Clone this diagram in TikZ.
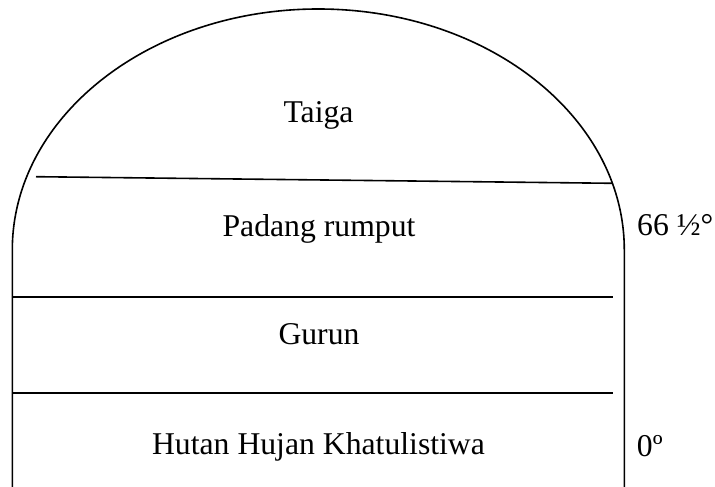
\documentclass[tikz,border=0pt]{standalone}
\usepackage{fontspec}
\setmainfont{Liberation Serif}
\tikzset{
  outline/.style={line width=1.6pt, line join=round},
  divider/.style={line width=1.6pt},
  zonelabel/.style={inner sep=0pt, anchor=base, font=\fontsize{31.7}{38}\selectfont},
  latlabel/.style={inner sep=0pt, anchor=base west, font=\fontsize{31.7}{38}\selectfont}
}
\begin{document}
\begin{tikzpicture}[x=1pt,y=1pt]
\useasboundingbox (0,0) rectangle (715,487);
% outline
\coordinate (bl) at (12.3,0);
\coordinate (ml) at (12.3,237);
\coordinate (br) at (624.3,0);
\draw[outline] (bl) -- (ml) arc[start angle=180, end angle=0, x radius=306pt, y radius=241pt] -- (br);
% dividers
\coordinate (t1) at (36,310.3);
\coordinate (t2) at (612.3,303.7);
\draw[divider] (t1) -- (t2);
\coordinate (p1) at (12.3,189.7);
\coordinate (p2) at (613,189.7);
\draw[divider] (p1) -- (p2);
\coordinate (g1) at (12.3,93.7);
\coordinate (g2) at (613,93.7);
\draw[divider] (g1) -- (g2);
% labels
\node[zonelabel] (taiga) at (318.5,364) {Taiga};
\node[zonelabel] (padang) at (319,250.3) {Padang rumput};
\node[zonelabel] (gurun) at (319,142) {Gurun};
\node[zonelabel] (hutan) at (318.5,32) {Hutan Hujan Khatulistiwa};
\node[latlabel] (lat66) at (637,251) {66 ½°};
\node[latlabel] (lat0) at (636.7,30.3) {0º};
\end{tikzpicture}
\end{document}
